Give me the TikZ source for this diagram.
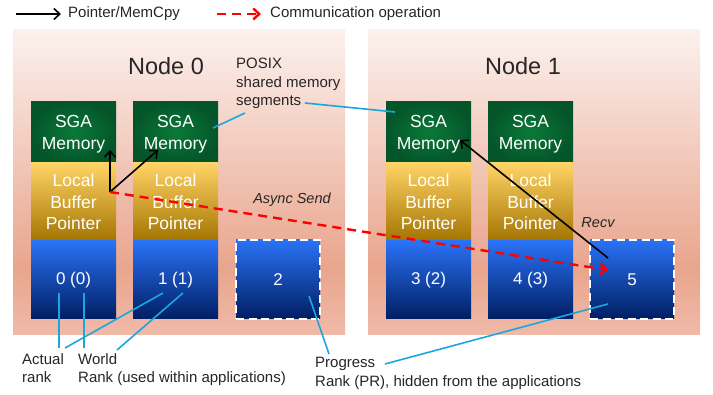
\documentclass[tikz,border=0pt]{standalone}
\usepackage{fontspec}
\setmainfont{Liberation Sans}
\usetikzlibrary{positioning, arrows.meta, shadings}

\definecolor{panelTop}{HTML}{FCF1EE}
\definecolor{panelDark}{HTML}{E9A58D}
\definecolor{panelBot}{HTML}{F0BAA8}
\definecolor{sgaIn}{HTML}{0A7A38}
\definecolor{sgaOut}{HTML}{04562A}
\definecolor{lbTop}{HTML}{FFD466}
\definecolor{lbMid}{HTML}{FFB300}
\definecolor{lbBot}{HTML}{A47400}
\definecolor{rkTop}{HTML}{2A72F6}
\definecolor{rkMid}{HTML}{003399}
\definecolor{rkBot}{HTML}{001E62}
\definecolor{callout}{HTML}{1AA7E0}
\definecolor{txt}{HTML}{262626}

\pgfdeclareverticalshading{panelshade}{100bp}{color(0bp)=(panelBot); color(25bp)=(panelBot); color(36bp)=(panelDark); color(75bp)=(panelTop); color(100bp)=(panelTop)}

\begin{document}
\begin{tikzpicture}[x=1pt, y=-1pt,
  panel/.style = {shading=panelshade, draw=none, minimum width=332pt, minimum height=305pt, anchor=north west, outer sep=0pt},
  block/.style = {minimum width=85pt, inner sep=0pt, outer sep=0pt, align=center, text=white,
                  font=\fontsize{17.5}{21.5}\selectfont},
  sga/.style = {block, minimum height=61pt, inner color=sgaIn, outer color=sgaOut, text depth=-3pt},
  lbuf/.style = {block, minimum height=78pt, top color=lbTop, middle color=lbMid, bottom color=lbBot},
  rankbox/.style = {block, minimum height=78pt, top color=rkTop, middle color=rkMid, bottom color=rkBot,
                    font=\fontsize{17}{20}\selectfont},
  prbox/.style = {rankbox, minimum width=84pt, minimum height=79pt, draw=white, line width=2.6pt, dash pattern=on 8pt off 4.5pt},
  title/.style = {text=txt, font=\fontsize{23.5}{28}\selectfont},
  note/.style = {text=txt, align=left, inner sep=0pt, font=\fontsize{15}{18.5}\selectfont},
  ptr/.style = {-{Straight Barb[length=6pt, width=11pt, line width=1.6pt]}, black, line width=1.6pt},
  comm/.style = {-{Straight Barb[length=6pt, width=11pt, line width=2.4pt]}, red, line width=2.4pt, dash pattern=on 9pt off 6pt},
  link/.style = {callout, line width=1.6pt}]

\useasboundingbox (0,0) rectangle (713,395);

% legend
\coordinate (lgA) at (16,14);
\coordinate (lgB) at (61,14);
\coordinate (lgC) at (217,14);
\coordinate (lgD) at (261,14);
\draw[ptr] (lgA) -- (lgB);
\node[note, anchor=west] (lgptr) at (68,14) {Pointer/MemCpy};
\draw[comm] (lgC) -- (lgD);
\node[note, anchor=west] (lgcomm) at (270,14) {Communication operation};

% the two nodes
\node[panel] (node0) at (13,30) {};
\node[panel] (node1) at (368,30) {};
\node[title] (title0) at (166,66) {Node 0};
\node[title] (title1) at (523,66) {Node 1};

% node 0 processes
\node[sga, anchor=north west] (sga0) at (31,102) {SGA\\Memory};
\node[lbuf, below=0pt of sga0] (lb0) {Local\\Buffer\\Pointer};
\node[rankbox, below=0pt of lb0] (r0) {0 (0)};
\node[sga, right=17pt of sga0] (sga1) {SGA\\Memory};
\node[lbuf, below=0pt of sga1] (lb1) {Local\\Buffer\\Pointer};
\node[rankbox, below=0pt of lb1] (r1) {1 (1)};
\node[prbox, anchor=north west] (pr0) at (236,240) {2};

% node 1 processes
\node[sga, anchor=north west] (sga2) at (386,102) {SGA\\Memory};
\node[lbuf, below=0pt of sga2] (lb2) {Local\\Buffer\\Pointer};
\node[rankbox, below=0pt of lb2] (r2) {3 (2)};
\node[sga, right=17pt of sga2] (sga3) {SGA\\Memory};
\node[lbuf, below=0pt of sga3] (lb3) {Local\\Buffer\\Pointer};
\node[rankbox, below=0pt of lb3] (r3) {4 (3)};
\node[prbox, anchor=north west] (pr1) at (590,240) {5};

% pointers and communication
\coordinate (src) at (110,192);
\coordinate (own) at (110,150);
\coordinate (peer) at (158,150);
\coordinate (recvpt) at (608,258);
\coordinate (dst) at (460,140);
\coordinate (sendto) at (608,270);
\draw[ptr] (src) -- (own);
\draw[ptr] (src) -- (peer);
\draw[comm] (src) -- (sendto);
\draw[ptr] (recvpt) -- (dst);
\node[note, font=\fontsize{14.5}{17}\selectfont\itshape] (async) at (292,200) {Async Send};
\node[note, font=\fontsize{14.5}{17}\selectfont\itshape] (recv) at (598,223) {Recv};

% annotations
\node[note, anchor=north west] (posix) at (236,58) {POSIX\\shared memory\\segments};
\coordinate (px1) at (245,113);
\coordinate (px1e) at (213,128);
\coordinate (px2) at (305,103);
\coordinate (px2e) at (395,112);
\draw[link] (px1) -- (px1e);
\draw[link] (px2) -- (px2e);

\node[note, anchor=north west] (actual) at (22,353) {Actual\\rank};
\node[note, anchor=north west] (world) at (78,353) {World\\Rank (used within applications)};
\node[note, anchor=north west] (progress) at (315,357) {Progress\\Rank (PR), hidden from the applications};

\coordinate (a0) at (59,293);
\coordinate (a0e) at (59,348);
\coordinate (w0) at (84,293);
\coordinate (w0e) at (84,348);
\coordinate (a1) at (163,293);
\coordinate (a1e) at (65,348);
\coordinate (w1) at (183,293);
\coordinate (w1e) at (117,350);
\coordinate (p0) at (309,296);
\coordinate (p0e) at (329,354);
\coordinate (p1) at (608,304);
\coordinate (p1e) at (385,364);
\draw[link] (a0) -- (a0e);
\draw[link] (w0) -- (w0e);
\draw[link] (a1) -- (a1e);
\draw[link] (w1) -- (w1e);
\draw[link] (p0) -- (p0e);
\draw[link] (p1) -- (p1e);
\end{tikzpicture}
\end{document}
